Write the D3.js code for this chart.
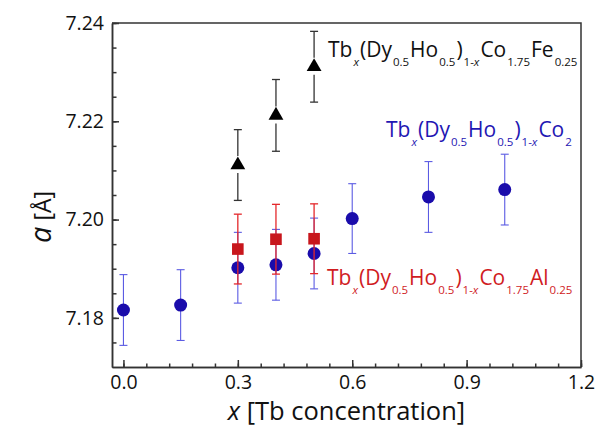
<!DOCTYPE html>
<html>
<head>
<meta charset="utf-8">
<script src="https://cdn.jsdelivr.net/npm/d3@7"></script>
<style>
  body { margin: 0; background: #fff; }
  text { font-family: "Open Sans", "Noto Sans", sans-serif; }
</style>
</head>
<body>
<svg id="chart" width="606" height="431"></svg>
<script>
// Tb(Dy0.5Ho0.5)1-xCo2
var xCo2 = [0, 0.15, 0.3, 0.4, 0.5, 0.6, 0.8, 1.0];
var aCo2 = [7.1816, 7.1826, 7.1902, 7.1908, 7.1931, 7.2002, 7.2046, 7.2061];
var errCo2 = [0.0072, 0.0072, 0.0072, 0.0072, 0.0072, 0.0071, 0.0072, 0.0072];

// Tb(Dy0.5Ho0.5)1-xCo1.75Al0.25
var xAl = [0.3, 0.4, 0.5];
var aAl = [7.1940, 7.1960, 7.1961];
var errAl = [0.0071, 0.0071, 0.0071];

// Tb(Dy0.5Ho0.5)1-xCo1.75Fe0.25
var xFe = [0.3, 0.4, 0.5];
var aFe = [7.2111, 7.2212, 7.2311];
var errFe = [0.0072, 0.0073, 0.0072];

var xTicks = [0, 0.3, 0.6, 0.9, 1.2];
var yTicks = [7.18, 7.20, 7.22, 7.24];

var margin = {top: 23, right: 25, bottom: 64, left: 112};
var width = 606 - margin.left - margin.right;
var height = 431 - margin.top - margin.bottom;

var svg = d3.select("#chart");
var g = svg.append("g").attr("transform", "translate(" + margin.left + "," + margin.top + ")");

var x = d3.scaleLinear().domain([-0.03, 1.2]).range([0, width]);
var y = d3.scaleLinear().domain([7.17, 7.24]).range([height, 0]);

var axisColor = "#333";

// minor ticks
var xMinor = d3.range(0, 1.2001, 0.06);
var yMinor = d3.range(7.175, 7.2401, 0.005);
g.append("g")
    .attr("transform", "translate(0," + height + ")")
    .call(d3.axisBottom(x).tickValues(xMinor).tickSize(-3.5).tickSizeOuter(0).tickFormat(""));
g.append("g")
    .call(d3.axisLeft(y).tickValues(yMinor).tickSize(-4.5).tickSizeOuter(0).tickFormat(""));

// major axes
var xAxis = g.append("g")
    .attr("transform", "translate(0," + height + ")")
    .call(d3.axisBottom(x).tickValues(xTicks).tickSize(-7).tickSizeOuter(0).tickPadding(8)
        .tickFormat(d3.format(".1f")));
var yAxis = g.append("g")
    .call(d3.axisLeft(y).tickValues(yTicks).tickSize(-7).tickSizeOuter(0).tickPadding(8)
        .tickFormat(d3.format(".2f")));

g.selectAll(".tick line, .domain").attr("stroke", axisColor).attr("stroke-width", 1.5);
xAxis.selectAll("text").attr("font-size", 19.5).attr("fill", "#111");
yAxis.selectAll("text").attr("font-size", 19.5).attr("fill", "#111");

// frame top and right
g.append("path")
    .attr("d", "M0,0H" + width + "V" + height)
    .attr("fill", "none")
    .attr("stroke", axisColor)
    .attr("stroke-width", 1.5);

// error bars
function errorBars(xs, ys, es, color, gapUp, gapDown, width) {
    var eg = g.append("g").attr("stroke", color).attr("stroke-width", width);
    xs.forEach(function(xv, i) {
        var cx = x(xv), top = y(ys[i] + es[i]), bot = y(ys[i] - es[i]), cy = y(ys[i]);
        eg.append("line").attr("x1", cx).attr("x2", cx).attr("y1", top).attr("y2", cy - gapUp);
        eg.append("line").attr("x1", cx).attr("x2", cx).attr("y1", cy + gapDown).attr("y2", bot);
        eg.append("line").attr("x1", cx - 4).attr("x2", cx + 4).attr("y1", top).attr("y2", top);
        eg.append("line").attr("x1", cx - 4).attr("x2", cx + 4).attr("y1", bot).attr("y2", bot);
    });
}

// Co2 (blue circles)
errorBars(xCo2, aCo2, errCo2, "#5b5be3", 0, 0, 1.1);
g.append("g").selectAll("circle")
    .data(xCo2)
    .enter().append("circle")
    .attr("cx", function(d) { return x(d); })
    .attr("cy", function(d, i) { return y(aCo2[i]); })
    .attr("r", 6.5)
    .attr("fill", "#1a0cab");

// Al (red squares)
errorBars(xAl, aAl, errAl, "#e4282b", 0, 0, 1.3);
g.append("g").selectAll("rect")
    .data(xAl)
    .enter().append("rect")
    .attr("x", function(d) { return x(d) - 5.8; })
    .attr("y", function(d, i) { return y(aAl[i]) - 5.8; })
    .attr("width", 11.6)
    .attr("height", 11.6)
    .attr("fill", "#c8161c");

// Fe (black triangles)
errorBars(xFe, aFe, errFe, "#333", 9, 8, 1.3);
var tri = d3.symbol().type(d3.symbolTriangle).size(95);
g.append("g").selectAll("path")
    .data(xFe)
    .enter().append("path")
    .attr("d", tri)
    .attr("transform", function(d, i) { return "translate(" + x(d) + "," + y(aFe[i]) + ")"; })
    .attr("fill", "#000");

// formula labels
function formula(px, py, tail, color) {
    var parts = [["Tb"], ["x", 1, 1], ["(Dy"], ["0.5", 1], ["Ho"], ["0.5", 1], [")"], ["1-", 1], ["x", 1, 1]].concat(tail);
    var t = svg.append("text").attr("x", px).attr("y", py).attr("fill", color).attr("font-size", 21);
    var sub = false;
    parts.forEach(function(p) {
        var isSub = !!p[1];
        var s = t.append("tspan").text(p[0]);
        if (isSub && !sub) s.attr("dy", 9).attr("dx", 1);
        if (!isSub && sub) s.attr("dy", -9).attr("dx", 1);
        if (isSub) s.attr("font-size", 11.5);
        if (p[2]) s.attr("font-style", "italic");
        sub = isSub;
    });
}
formula(328, 57, [["Co"], ["1.75", 1], ["Fe"], ["0.25", 1]], "#111");
formula(386, 137, [["Co"], ["2", 1]], "#1f17b3");
formula(327, 285, [["Co"], ["1.75", 1], ["Al"], ["0.25", 1]], "#d01c1f");

// axis titles
svg.append("text")
    .attr("x", margin.left + width / 2)
    .attr("y", 420)
    .attr("text-anchor", "middle")
    .attr("font-size", 25.5)
    .attr("fill", "#111")
    .html('<tspan font-style="italic">x</tspan> [Tb concentration]');

svg.append("text")
    .attr("transform", "translate(51,243) rotate(-90)")
    .attr("text-anchor", "start")
    .attr("font-size", 23)
    .attr("fill", "#111")
    .html('<tspan font-style="italic" font-size="29">a</tspan> [Å]');
</script>
</body>
</html>
